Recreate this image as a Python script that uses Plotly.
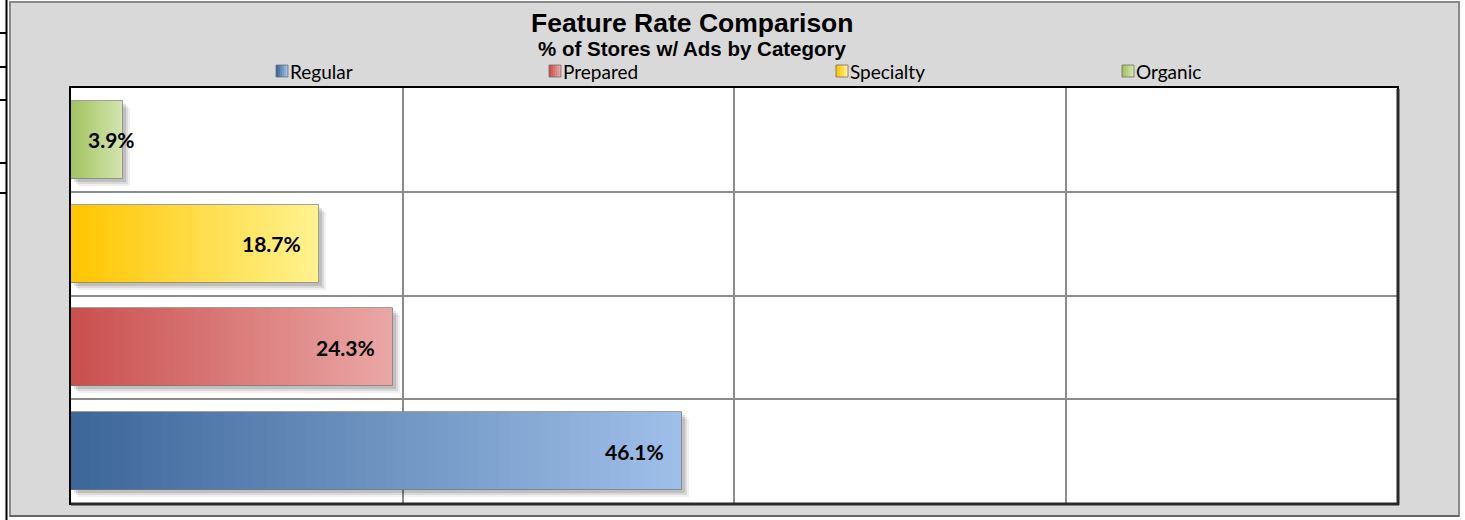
import plotly.graph_objects as go

# ---------------- data ----------------
categories = ["Regular", "Prepared", "Specialty", "Organic"]
values = [46.1, 24.3, 18.7, 3.9]
label_texts = ["46.1%", "24.3%", "18.7%", "3.9%"]
colors_dark = ["#3d6699", "#c9504e", "#ffc500", "#a2c260"]
colors_light = ["#9ebfe8", "#eaa6a5", "#fff28e", "#d3e5ad"]
x_ticks = [0, 25, 50, 75, 100]
title_text = "<b>Feature Rate Comparison</b>"
subtitle_text = "<b>% of Stores w/ Ads by Category</b>"

# ---------------- layout constants ----------------
W, H = 1465, 520
L, R, T, B = 71, 68, 88, 17
PW, PH = W - L - R, H - T - B
N_SEG = 60
BAR_W = 0.75


def px_x(px):
    return (px - L) / PW


def px_y(py):
    return (H - B - py) / PH


def hex2rgb(h):
    h = h.lstrip("#")
    return tuple(int(h[i:i + 2], 16) for i in (0, 2, 4))


def mix(c1, c2, t):
    a, b = hex2rgb(c1), hex2rgb(c2)
    return "rgb(%d,%d,%d)" % tuple(round(a[i] + (b[i] - a[i]) * t) for i in range(3))


fig = go.Figure()
ypos = list(range(len(categories)))
unit_x = 100 / PW          # data units per pixel on x
unit_y = len(categories) / PH  # data units per pixel on y

# soft shadows
for off, alpha in [(7, 0.06), (5, 0.09), (3, 0.12)]:
    fig.add_trace(go.Bar(
        orientation="h", y=[p - off * unit_y for p in ypos], x=values,
        base=[off * unit_x] * len(values), width=BAR_W,
        marker=dict(color="rgba(0,0,0,%.2f)" % alpha, line=dict(width=0)),
        hoverinfo="skip", showlegend=False))

# gradient bars built from segments
for i, cat in enumerate(categories):
    v = values[i]
    seg = v / N_SEG
    fig.add_trace(go.Bar(
        orientation="h", name=cat,
        y=[ypos[i]] * N_SEG, x=[seg * 1.02] * N_SEG,
        base=[seg * k for k in range(N_SEG)], width=BAR_W,
        marker=dict(color=[mix(colors_dark[i], colors_light[i], k / (N_SEG - 1)) for k in range(N_SEG)],
                    line=dict(width=0)),
        hoverinfo="skip", showlegend=False))

# bar outlines
fig.add_trace(go.Bar(
    orientation="h", y=ypos, x=values, width=BAR_W,
    marker=dict(color="rgba(0,0,0,0)", line=dict(color="rgba(120,120,120,0.7)", width=1)),
    hovertemplate="%{x:.1f}%<extra></extra>", showlegend=False))

# value labels
for i, v in enumerate(values):
    inside = v * PW / 100 > 80
    fig.add_annotation(
        x=v if inside else 0, y=ypos[i], xref="x", yref="y",
        text="<b>%s</b>" % label_texts[i], showarrow=False,
        xanchor="right" if inside else "left", xshift=-16 if inside else 15,
        font=dict(family="Lato, Open Sans, sans-serif", size=21, color="black"))

shapes = []
# outer chart frame
shapes.append(dict(type="rect", xref="paper", yref="paper",
                   x0=px_x(10), x1=px_x(1459), y0=px_y(516), y1=px_y(2),
                   fillcolor="#d9d9d9", line=dict(color="#8a8a8a", width=2), layer="below"))
shapes.append(dict(type="line", xref="paper", yref="paper",
                   x0=px_x(10), x1=px_x(1459), y0=px_y(516), y1=px_y(516),
                   line=dict(color="#666666", width=2), layer="below"))
# plot area background
shapes.append(dict(type="rect", xref="paper", yref="paper", x0=0, x1=1, y0=0, y1=1,
                   fillcolor="white", line=dict(width=0), layer="below"))
# plot area dark border (shadowed right/bottom)
shapes.append(dict(type="line", xref="paper", yref="paper", x0=px_x(1398), x1=px_x(1398),
                   y0=px_y(505), y1=px_y(89), line=dict(color="#2a2a2a", width=3)))
shapes.append(dict(type="line", xref="paper", yref="paper", x0=px_x(71), x1=px_x(1399),
                   y0=px_y(504), y1=px_y(504), line=dict(color="#2a2a2a", width=3)))

# left spreadsheet artifacts
shapes.append(dict(type="line", xref="paper", yref="paper", x0=px_x(6.5), x1=px_x(6.5),
                   y0=px_y(0), y1=px_y(520), line=dict(color="black", width=2)))
for yy in [33, 67, 100, 163, 193]:
    shapes.append(dict(type="line", xref="paper", yref="paper", x0=px_x(0), x1=px_x(6.5),
                       y0=px_y(yy), y1=px_y(yy), line=dict(color="black", width=2)))

# manual legend
legend_x = [276, 549, 836, 1122]
for i, cat in enumerate(categories):
    x0 = legend_x[i]
    nstrip = 6
    for k in range(nstrip):
        shapes.append(dict(type="rect", xref="paper", yref="paper",
                           x0=px_x(x0 + k * 2), x1=px_x(x0 + (k + 1) * 2),
                           y0=px_y(77), y1=px_y(65),
                           fillcolor=mix(colors_dark[i], colors_light[i], k / (nstrip - 1)),
                           line=dict(width=0)))
    shapes.append(dict(type="rect", xref="paper", yref="paper",
                       x0=px_x(x0), x1=px_x(x0 + 12), y0=px_y(77), y1=px_y(65),
                       line=dict(color="rgba(110,110,110,0.8)", width=1)))
    fig.add_annotation(x=px_x(x0 + 14), y=px_y(71.5), xref="paper", yref="paper",
                       text=cat, showarrow=False, xanchor="left", yanchor="middle",
                       borderpad=0, borderwidth=0,
                       font=dict(family="Lato, Open Sans, sans-serif", size=19, color="black"))

# titles
fig.add_annotation(x=px_x(692), y=px_y(23), xref="paper", yref="paper", text=title_text,
                   showarrow=False, xanchor="center", yanchor="middle",
                   borderpad=0, borderwidth=0,
                   font=dict(family="Liberation Sans, Arial, sans-serif", size=26.5, color="black"))
fig.add_annotation(x=px_x(692), y=px_y(48.5), xref="paper", yref="paper", text=subtitle_text,
                   showarrow=False, xanchor="center", yanchor="middle",
                   borderpad=0, borderwidth=0,
                   font=dict(family="Liberation Sans, Arial, sans-serif", size=20.5, color="black"))

fig.update_layout(
    width=W, height=H,
    margin=dict(l=L, r=R, t=T, b=B, pad=0),
    paper_bgcolor="white", plot_bgcolor="rgba(0,0,0,0)",
    barmode="overlay", bargap=0,
    showlegend=False,
    shapes=shapes,
    xaxis=dict(range=[0, 100], tickvals=x_ticks, showticklabels=False, ticks="",
               showgrid=True, gridcolor="#8c8c8c", gridwidth=2, zeroline=False,
               showline=True, linecolor="black", linewidth=2, mirror=True, fixedrange=True),
    yaxis=dict(range=[-0.5, len(categories) - 0.5],
               tickvals=[p + 0.5 for p in ypos[:-1]], showticklabels=False, ticks="",
               showgrid=True, gridcolor="#8c8c8c", gridwidth=2, zeroline=False,
               showline=True, linecolor="black", linewidth=2, mirror=True, fixedrange=True),
)

fig.write_html("out.html", config={"displayModeBar": False},
               post_script="document.body.style.margin='0';document.body.style.overflow='hidden';")
